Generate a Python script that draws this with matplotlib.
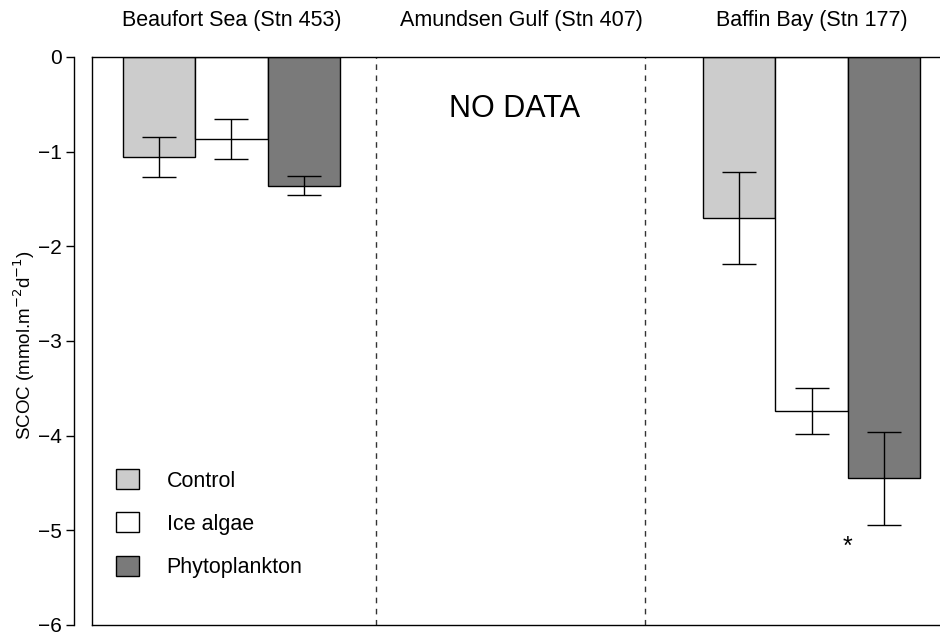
import numpy as np
import matplotlib
matplotlib.use("Agg")
import matplotlib.pyplot as plt
from matplotlib.patches import Patch
from matplotlib.transforms import blended_transform_factory

plt.rcParams["font.family"] = ["Liberation Sans", "DejaVu Sans"]

# ---- data ----
stations = ["Beaufort Sea (Stn 453)", "Amundsen Gulf (Stn 407)", "Baffin Bay (Stn 177)"]
treatments = ["Control", "Ice algae", "Phytoplankton"]
colors = ["#cccccc", "#ffffff", "#7a7a7a"]

beaufort_mean = [-1.06, -0.87, -1.36]
beaufort_err = [0.21, 0.21, 0.10]
amundsen_mean = [np.nan, np.nan, np.nan]      # no data
amundsen_err = [np.nan, np.nan, np.nan]
baffin_mean = [-1.70, -3.74, -4.45]
baffin_err = [0.49, 0.24, 0.49]

means = [beaufort_mean, amundsen_mean, baffin_mean]
errs = [beaufort_err, amundsen_err, baffin_err]

fig = plt.figure(figsize=(9.4, 6.36), dpi=100)
ax = fig.add_axes([92 / 940, 11 / 636, 854 / 940, 568 / 636])

# bars: groups spaced 4 bar-widths apart
for g, (m, e) in enumerate(zip(means, errs)):
    if np.all(np.isnan(m)):
        continue
    for t in range(3):
        x = 4 * g + t
        ax.bar(x, m[t], width=1.0, color=colors[t], edgecolor="black",
               linewidth=1.0, zorder=2)
    ax.errorbar(4 * g + np.arange(3), m, yerr=e, fmt="none", ecolor="black",
                elinewidth=1.0, capsize=12, capthick=1.0, zorder=3)

ax.set_xlim(-0.924, 10.855)
ax.set_ylim(-6, 0)

# group separators
for xs in (3.0, 6.7):
    ax.axvline(xs, color="#333333", lw=1.0, ls=(0, (4, 4)), zorder=1)

# titles over each group
tr = blended_transform_factory(ax.transData, ax.transAxes)
for g, name in enumerate(stations):
    ax.text(4 * g + 1, 1.065, name, transform=tr, ha="center", va="center",
            fontsize=15.5)

ax.text(4.91, -0.55, "NO DATA", ha="center", va="center", fontsize=22)
ax.text(9.5, -5.17, "*", ha="center", va="center", fontsize=18)

# R-style detached y axis plus box
for s in ("top", "bottom", "right"):
    ax.spines[s].set_linewidth(1.0)
ax.spines["left"].set_position(("outward", 13))
ax.spines["left"].set_linewidth(1.0)
ax.axvline(-0.924, color="black", lw=1.0, clip_on=False, zorder=4)
ax.set_xticks([])
ax.set_yticks(np.arange(-6, 1))
ax.set_yticklabels([f"\u2212{abs(v)}" if v < 0 else "0" for v in range(-6, 1)])
ax.tick_params(axis="y", length=6, width=1.0, labelsize=15, pad=3)

fig.text(24 / 940, 1 - 345 / 636, r"SCOC (mmol.m$^{-2}$d$^{-1}$)", rotation=90,
         ha="center", va="center", fontsize=13.5)

handles = [Patch(facecolor=c, edgecolor="black", linewidth=1.0) for c in colors]
ax.legend(handles, treatments, loc="lower left", frameon=False, fontsize=15.5,
          handlelength=1.05, handleheight=1.05, handletextpad=1.3,
          labelspacing=0.97, borderpad=0, borderaxespad=0,
          bbox_to_anchor=(116 / 940, 58 / 636), bbox_transform=fig.transFigure)

fig.savefig("out.png", dpi=100)
